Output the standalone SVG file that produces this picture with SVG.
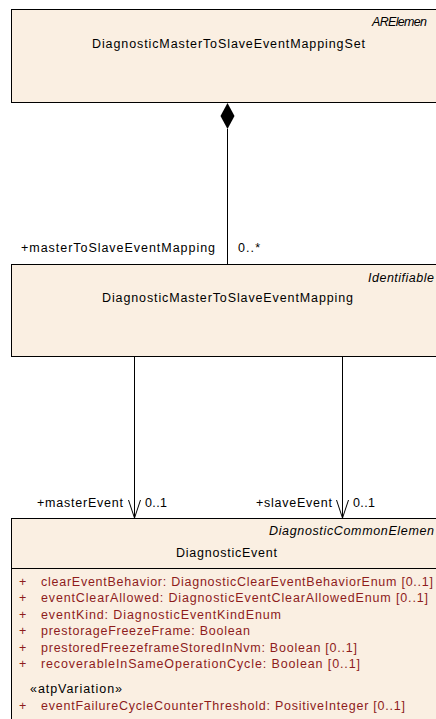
<svg xmlns="http://www.w3.org/2000/svg" width="436" height="719" viewBox="0 0 436 719">
<style>
text{font-family:"Liberation Sans",Arial,sans-serif;font-size:12.5px;fill:#000}
.st{font-style:italic}
.at{fill:#8E1C1C}
.box{fill:#FAEFE2;stroke:#000;stroke-width:1}
.ln{stroke:#000;stroke-width:1;fill:none}
</style>
<rect width="436" height="719" fill="#fff"/>
<g id="DiagnosticMasterToSlaveEventMappingSet">
<rect class="box" x="11.5" y="9.5" width="440" height="93"/>
<text class="st" x="372" y="26" textLength="55">ARElemen</text>
<text x="92" y="47.5" textLength="273">DiagnosticMasterToSlaveEventMappingSet</text>
</g>
<g id="DiagnosticMasterToSlaveEventMapping">
<rect class="box" x="11.5" y="264.5" width="440" height="92"/>
<text class="st" x="368" y="281.5" textLength="66">Identifiable</text>
<text x="102" y="302" textLength="251">DiagnosticMasterToSlaveEventMapping</text>
</g>
<g id="DiagnosticEvent">
<rect class="box" x="11.5" y="518.5" width="440" height="220"/>
<text class="st" x="269" y="535" textLength="165">DiagnosticCommonElemen</text>
<text x="176" y="556.5" textLength="101">DiagnosticEvent</text>
<line class="ln" x1="11" y1="568.5" x2="436" y2="568.5"/>
<text class="at" x="19" y="585.5">+</text><text class="at" x="41" y="585.5" textLength="392">clearEventBehavior: DiagnosticClearEventBehaviorEnum [0..1]</text>
<text class="at" x="19" y="602">+</text><text class="at" x="41" y="602" textLength="387">eventClearAllowed: DiagnosticEventClearAllowedEnum [0..1]</text>
<text class="at" x="19" y="618.5">+</text><text class="at" x="41" y="618.5" textLength="240">eventKind: DiagnosticEventKindEnum</text>
<text class="at" x="19" y="635">+</text><text class="at" x="41" y="635" textLength="209">prestorageFreezeFrame: Boolean</text>
<text class="at" x="19" y="651.5">+</text><text class="at" x="41" y="651.5" textLength="316">prestoredFreezeframeStoredInNvm: Boolean [0..1]</text>
<text class="at" x="19" y="668">+</text><text class="at" x="41" y="668" textLength="319">recoverableInSameOperationCycle: Boolean [0..1]</text>
<text x="30" y="692.5" textLength="92">«atpVariation»</text>
<text class="at" x="19" y="710">+</text><text class="at" x="41" y="710" textLength="364">eventFailureCycleCounterThreshold: PositiveInteger [0..1]</text>
</g>
<g id="connectors">
<line class="ln" x1="227.5" y1="129" x2="227.5" y2="264"/>
<polygon points="227.5,103 234.5,116 227.5,129 220.5,116" fill="#000"/>
<text x="21" y="251.5" textLength="194">+masterToSlaveEventMapping</text>
<text x="238" y="251.5" textLength="22">0..*</text>
<line class="ln" x1="134.5" y1="357" x2="134.5" y2="518"/>
<polyline class="ln" points="128.5,500 134.5,518 140.5,500"/>
<text x="37" y="507" textLength="86">+masterEvent</text>
<text x="145" y="507" textLength="22">0..1</text>
<line class="ln" x1="342.5" y1="357" x2="342.5" y2="518"/>
<polyline class="ln" points="336.5,500 342.5,518 348.5,500"/>
<text x="256" y="507" textLength="76">+slaveEvent</text>
<text x="353" y="507" textLength="22">0..1</text>
</g>
</svg>
